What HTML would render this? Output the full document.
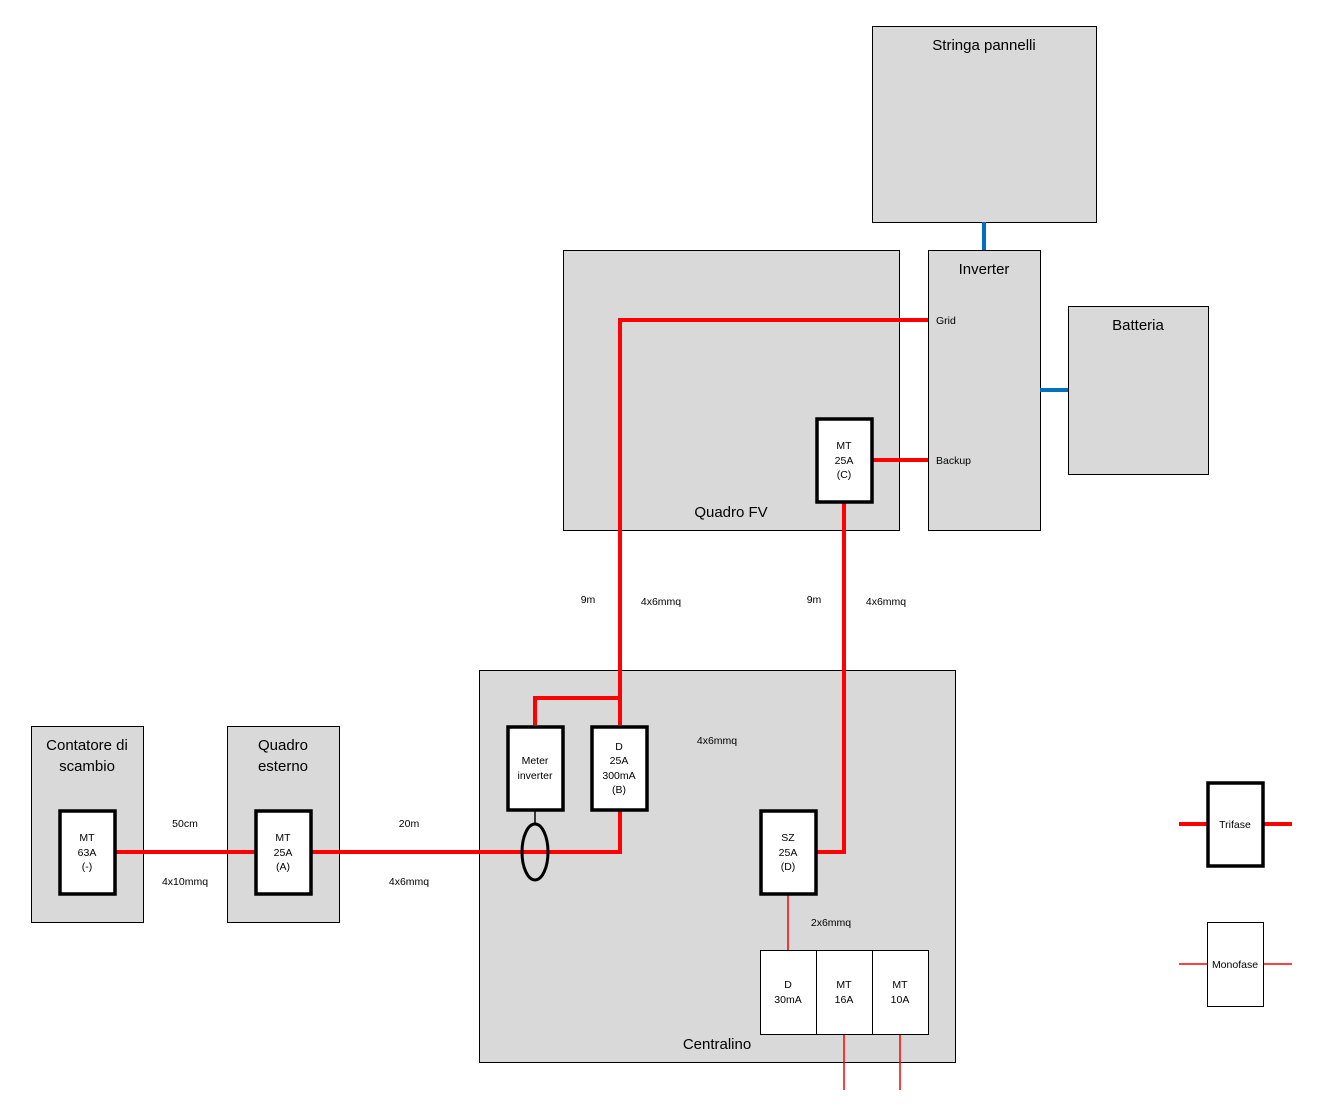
<!DOCTYPE html>
<html><head><meta charset="utf-8"><style>
html,body{margin:0;padding:0;background:#fff}
svg text{font-family:"Liberation Sans","DejaVu Sans",sans-serif;fill:#000}
</style></head><body>
<svg width="1321" height="1114" xmlns="http://www.w3.org/2000/svg">
<g fill="#d9d9d9" stroke="#000" stroke-width="1">
<rect x="872.5" y="26.5" width="224" height="196"/>
<rect x="928.5" y="250.5" width="112" height="280"/>
<rect x="1068.5" y="306.5" width="140" height="168"/>
<rect x="563.5" y="250.5" width="336" height="280"/>
<rect x="479.5" y="670.5" width="476" height="392"/>
<rect x="31.5" y="726.5" width="112" height="196"/>
<rect x="227.5" y="726.5" width="112" height="196"/>
</g>
<g font-size="15" text-anchor="middle">
<text x="984" y="50">Stringa pannelli</text>
<text x="984" y="274">Inverter</text>
<text x="1138" y="330">Batteria</text>
<text x="731" y="517">Quadro FV</text>
<text x="717" y="1049">Centralino</text>
<text x="87" y="750">Contatore di</text>
<text x="87" y="771">scambio</text>
<text x="283" y="750">Quadro</text>
<text x="283" y="771">esterno</text>
</g>
<g stroke="#0070c0" stroke-width="4"><line x1="984" y1="222" x2="984" y2="250"/><line x1="1040" y1="390" x2="1068" y2="390"/></g>
<g stroke="#ff0000" stroke-width="4" fill="none">
<polyline points="928,320 620,320 620,725"/>
<polyline points="535,725 535,698 620,698"/>
<line x1="872" y1="460" x2="928" y2="460"/>
<polyline points="844,502 844,852 816,852"/>
<polyline points="620,810 620,852 116,852"/>
<line x1="1179" y1="824" x2="1292" y2="824"/>
</g>
<g stroke="#ff0000" stroke-width="1.5">
<line x1="788" y1="894" x2="788" y2="950"/>
<line x1="844" y1="1034" x2="844" y2="1090"/>
<line x1="900" y1="1034" x2="900" y2="1090"/>
<line x1="1179" y1="964" x2="1292" y2="964"/>
</g>
<line x1="535" y1="810" x2="535" y2="824" stroke="#000" stroke-width="1.5"/>
<ellipse cx="535" cy="852" rx="13" ry="28" fill="none" stroke="#000" stroke-width="3"/>
<g fill="#fff" stroke="#000" stroke-width="3.5">
<rect x="817" y="419" width="55" height="83"/>
<rect x="508" y="727" width="55" height="83"/>
<rect x="592" y="727" width="55" height="83"/>
<rect x="761" y="811" width="55" height="83"/>
<rect x="60" y="811" width="55" height="83"/>
<rect x="256" y="811" width="55" height="83"/>
<rect x="1208" y="783" width="55" height="83"/>
</g>
<g fill="#fff" stroke="#000" stroke-width="1">
<rect x="760.5" y="950.5" width="56" height="84"/>
<rect x="816.5" y="950.5" width="56" height="84"/>
<rect x="872.5" y="950.5" width="56" height="84"/>
<rect x="1207.5" y="922.5" width="56" height="84"/>
</g>
<g font-size="10.5" text-anchor="middle">
<text x="844" y="449">MT</text><text x="844" y="464">25A</text><text x="844" y="478">(C)</text>
<text x="535" y="764">Meter</text><text x="535" y="779">inverter</text>
<text x="619" y="750">D</text><text x="619" y="764">25A</text><text x="619" y="779">300mA</text><text x="619" y="793">(B)</text>
<text x="788" y="841">SZ</text><text x="788" y="856">25A</text><text x="788" y="870">(D)</text>
<text x="87" y="841">MT</text><text x="87" y="856">63A</text><text x="87" y="870">(-)</text>
<text x="283" y="841">MT</text><text x="283" y="856">25A</text><text x="283" y="870">(A)</text>
<text x="788" y="988">D</text><text x="788" y="1003">30mA</text>
<text x="844" y="988">MT</text><text x="844" y="1003">16A</text>
<text x="900" y="988">MT</text><text x="900" y="1003">10A</text>
<text x="1235" y="828">Trifase</text>
<text x="1235" y="968">Monofase</text>
<text x="185" y="827">50cm</text><text x="185" y="885">4x10mmq</text>
<text x="409" y="827">20m</text><text x="409" y="885">4x6mmq</text>
<text x="588" y="603">9m</text><text x="661" y="605">4x6mmq</text>
<text x="814" y="603">9m</text><text x="886" y="605">4x6mmq</text>
<text x="717" y="744">4x6mmq</text>
<text x="831" y="926">2x6mmq</text>
</g>
<g font-size="10.5">
<text x="936" y="324">Grid</text>
<text x="936" y="464">Backup</text>
</g>
</svg>
</body></html>
